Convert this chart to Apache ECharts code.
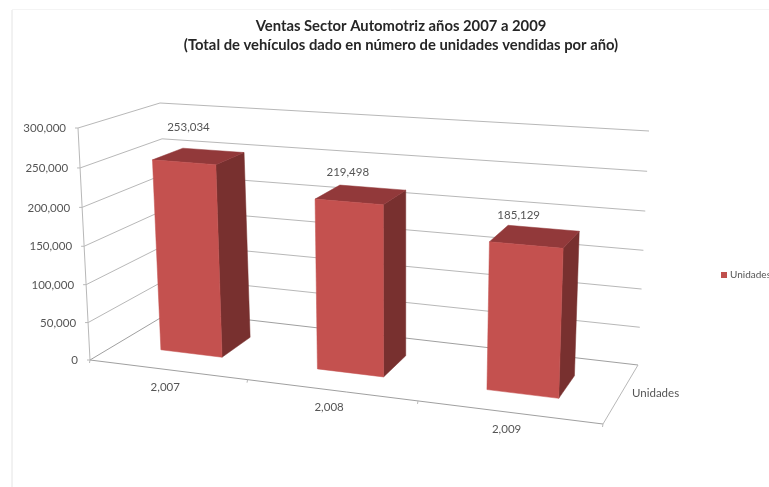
<!DOCTYPE html>
<html>
<head>
<meta charset="utf-8">
<title>Ventas Sector Automotriz</title>
<style>html,body{margin:0;padding:0;background:#fff}#chart{width:769px;height:487px}</style>
<script src="https://cdn.jsdelivr.net/npm/echarts@6/dist/echarts.min.js"></script>
</head>
<body>
<div id="chart"></div>
<script>
// Chart data
const categories = ['2,007', '2,008', '2,009'];
const unidades = [253034, 219498, 185129];
const valueTicks = [0, 50000, 100000, 150000, 200000, 250000, 300000];
const seriesName = 'Unidades';

// Corners of the 3D box on screen: F/B = front/back, L/R = left/right, B/T = bottom/top
const BOX = {
  FLB: [90, 360], FRB: [603, 424], BLB: [172, 311], BRB: [638, 365],
  FLT: [78, 128], FRT: [612, 167], BLT: [160, 103], BRT: [649, 131]
};
const PERSPECTIVE_U = 1.128;
const PERSPECTIVE_W = 1.04;
const BAR_DEPTH = [0.32, 0.71];
const BAR_WIDTH_FRACTION = 0.4;
const LABEL_LIFT = [21, 13, 10];

const FONT = 'Lato, "Open Sans", sans-serif';
const TEXT_COLOR = '#555555';
const GRID_COLOR = '#b8b8b8';
const AXIS_COLOR = '#a0a0a0';

const warp = (t, k) => t / (t + k * (1 - t));
const mix = (a, b, t) => [a[0] + (b[0] - a[0]) * t, a[1] + (b[1] - a[1]) * t];

// Perspective-like mapping of box coordinates (each 0..1) to the screen
function project(u, v, w) {
  const x = warp(u, PERSPECTIVE_U);
  const z = warp(w, PERSPECTIVE_W);
  const bottom = mix(mix(BOX.FLB, BOX.FRB, x), mix(BOX.BLB, BOX.BRB, x), v);
  const top = mix(mix(BOX.FLT, BOX.FRT, x), mix(BOX.BLT, BOX.BRT, x), v);
  return mix(bottom, top, z);
}

// Turns an axis value into its 0..1 height through the hidden value axis
function heightOf(api, params, value) {
  const r = params.coordSys;
  return (r.y + r.height - api.coord([0, value])[1]) / r.height;
}
function centerOf(api, params, index) {
  const r = params.coordSys;
  return (api.coord([index, 0])[0] - r.x) / r.width;
}

const line = (a, b, color, width) => ({
  type: 'line', silent: true,
  shape: { x1: a[0], y1: a[1], x2: b[0], y2: b[1] },
  style: { stroke: color, lineWidth: width || 1 }
});
const text = (p, str, align, size, weight) => ({
  type: 'text', silent: true,
  style: { x: p[0], y: p[1], text: str, fill: TEXT_COLOR, align: align, verticalAlign: 'middle',
           font: (weight || 'normal') + ' ' + (size || 11.5) + 'px ' + FONT }
});
const face = (points, color) => ({
  type: 'polygon', silent: true,
  shape: { points: points },
  style: { fill: color, stroke: color, lineWidth: 0.5 }
});

// Walls: one gridline per tick, running along the side wall and the back wall
function renderGridline(params, api) {
  const tick = api.value(0);
  const w = heightOf(api, params, tick);
  const front = project(0, 0, w);
  const corner = project(0, 1, w);
  const end = project(1, 1, w);
  const color = tick === 0 ? AXIS_COLOR : GRID_COLOR;
  return { type: 'group', children: [
    line(front, corner, color),
    line(corner, end, color),
    line([front[0] - 3, front[1]], front, GRID_COLOR),
    text([front[0] - 12, front[1] + 0.5], tick.toLocaleString('en-US'), 'right')
  ] };
}

// Floor edges, vertical axis and the depth label
function renderFrame() {
  const children = [
    line(project(0, 0, 0), project(0, 0, 1), GRID_COLOR),
    line(project(0, 0, 0), project(1, 0, 0), AXIS_COLOR),
    line(project(1, 0, 0), project(1, 1, 0), GRID_COLOR),
    text([632, 393.5], seriesName, 'left')
  ];
  for (let i = 0; i <= categories.length; i++) {
    const p = project(i / categories.length, 0, 0);
    children.push(line(p, [p[0] - 0.5, p[1] + 3], GRID_COLOR));
  }
  return { type: 'group', children: children };
}

function renderCategory(params, api) {
  const p = project(centerOf(api, params, params.dataIndex), 0, 0);
  return text([p[0] - 2, p[1] + 17.5], categories[params.dataIndex], 'center');
}

// One 3D bar: side, top and front faces plus its value label
function renderBar(params, api) {
  const i = params.dataIndex;
  const value = api.value(1);
  const half = api.size([1, 0])[0] * BAR_WIDTH_FRACTION / 2 / params.coordSys.width;
  const c = centerOf(api, params, i);
  const w = heightOf(api, params, value);
  const [near, far] = BAR_DEPTH;
  const l = c - half, r = c + half;
  const backLeftTop = project(l, far, w);
  const backRightTop = project(r, far, w);
  const labelAt = mix(backLeftTop, backRightTop, 0.5);
  return { type: 'group', children: [
    face([project(r, near, 0), project(r, far, 0), backRightTop, project(r, near, w)], '#78302f'),
    face([project(l, near, w), project(r, near, w), backRightTop, backLeftTop], '#92393a'),
    face([project(l, near, 0), project(r, near, 0), project(r, near, w), project(l, near, w)], '#c4514f'),
    text([labelAt[0] - 25, backLeftTop[1] - LABEL_LIFT[i]], value.toLocaleString('en-US'), 'center')
  ] };
}

const chart = echarts.init(document.getElementById('chart'), null, { renderer: 'canvas' });
chart.setOption({
  animation: false,
  backgroundColor: '#ffffff',
  title: {
    text: 'Ventas Sector Automotriz años 2007 a 2009\n(Total de vehículos dado en número de unidades vendidas por año)',
    left: 396, top: 12, textAlign: 'center',
    textStyle: { fontFamily: FONT, fontSize: 14.8, fontWeight: 'bold', color: '#262626', lineHeight: 19 }
  },
  legend: {
    left: 716, top: 265, itemWidth: 6, itemHeight: 6, itemGap: 4,
    icon: 'rect', data: [seriesName],
    textStyle: { fontFamily: FONT, fontSize: 10, color: TEXT_COLOR, padding: [0, 0, 0, -2] }
  },
  grid: { left: 90, right: 166, top: 128, bottom: 127 },
  xAxis: { type: 'category', data: categories, show: false },
  yAxis: { type: 'value', min: 0, max: 300000, interval: 50000, show: false },
  graphic: [
    { type: 'line', silent: true, shape: { x1: 12, y1: 10, x2: 12, y2: 487 }, style: { stroke: '#e4e4e4', lineWidth: 1 } },
    { type: 'line', silent: true, shape: { x1: 12, y1: 9.5, x2: 769, y2: 9.5 }, style: { stroke: '#f4f4f4', lineWidth: 1 } }
  ],
  series: [
    { name: 'Cuadrícula', type: 'custom', renderItem: renderGridline, data: valueTicks.map(t => [t]),
      encode: { y: 0 }, clip: false, silent: true, z: 1 },
    { name: 'Marco', type: 'custom', renderItem: renderFrame, data: [[0]], clip: false, silent: true, z: 2 },
    { name: 'Categorías', type: 'custom', renderItem: renderCategory, data: categories.map((c, i) => [i]),
      encode: { x: 0 }, clip: false, silent: true, z: 2 },
    { name: seriesName, type: 'custom', renderItem: renderBar, itemStyle: { color: '#c0504d' },
      data: unidades.map((v, i) => [i, v]), encode: { x: 0, y: 1 }, clip: false, silent: true, z: 3 }
  ]
});
</script>
</body>
</html>
